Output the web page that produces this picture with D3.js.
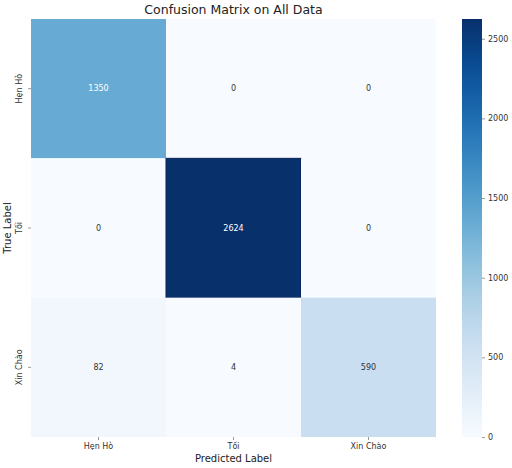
<!DOCTYPE html>
<html>
<head>
<meta charset="utf-8">
<script src="https://cdn.jsdelivr.net/npm/d3@7"></script>
<style>
  body { margin: 0; background: #fff; }
  text { font-family: "DejaVu Sans", sans-serif; }
</style>
</head>
<body>
<div id="chart"></div>
<script>
// class labels (true = rows, predicted = columns)
const labels = ["Hẹn Hò", "Tối", "Xin Chào"];
// confusion counts, row by row
const row0 = [1350, 0, 0];
const row1 = [0, 2624, 0];
const row2 = [82, 4, 590];
const colorTicks = [0, 500, 1000, 1500, 2000, 2500];

const matrix = [row0, row1, row2];
const cells = [];
matrix.forEach((r, i) => r.forEach((v, j) => cells.push({row: labels[i], col: labels[j], value: v})));

const W = 512, H = 468;
const margin = {top: 19, left: 31, right: 76, bottom: 31};
const plotW = 436 - margin.left, plotH = 437 - margin.top;

const svg = d3.select("#chart").append("svg")
    .attr("width", W)
    .attr("height", H);

const g = svg.append("g")
    .attr("transform", "translate(" + margin.left + "," + margin.top + ")");

const maxV = d3.max(cells, d => d.value);
const color = d3.scaleSequential(d3.interpolateBlues).domain([0, maxV]);

const x = d3.scaleBand().domain(labels).range([0, plotW]);
const y = d3.scaleBand().domain(labels).range([0, plotH]);

// cells
g.selectAll("rect.cell")
    .data(cells)
    .enter()
    .append("rect")
    .attr("class", "cell")
    .attr("x", d => x(d.col))
    .attr("y", d => y(d.row))
    .attr("width", x.bandwidth())
    .attr("height", y.bandwidth())
    .attr("fill", d => color(d.value))
    .attr("stroke", d => d.value === maxV ? "#08205a" : "none")
    .attr("stroke-width", 1);

// annotations - white on dark cells
g.selectAll("text.annot")
    .data(cells)
    .enter()
    .append("text")
    .attr("class", "annot")
    .attr("x", d => x(d.col) + x.bandwidth() / 2)
    .attr("y", d => y(d.row) + y.bandwidth() / 2)
    .attr("text-anchor", "middle")
    .attr("dominant-baseline", "central")
    .style("font-size", "8px")
    .attr("fill", d => d.value / maxV > 0.4 ? "#ffffff" : "#333")
    .text(d => d.value);

// axes
const xAxis = g.append("g")
    .attr("transform", "translate(0," + plotH + ")")
    .call(d3.axisBottom(x).tickSize(3).tickPadding(3));
xAxis.select(".domain").remove();
xAxis.selectAll("line").attr("stroke", "#555").attr("stroke-width", 0.6);
xAxis.selectAll("text").style("font-size", "8px").attr("fill", "#333");

const yAxis = g.append("g")
    .call(d3.axisLeft(y).tickSize(3).tickPadding(3));
yAxis.select(".domain").remove();
yAxis.selectAll("line").attr("stroke", "#555").attr("stroke-width", 0.6);
yAxis.selectAll("text")
    .style("font-size", "8px")
    .attr("fill", "#333")
    .attr("text-anchor", "middle")
    .attr("dy", null)
    .attr("x", null)
    .attr("transform", "translate(-9,0) rotate(-90)");

// title and axis labels
svg.append("text")
    .attr("x", margin.left + plotW / 2)
    .attr("y", 14)
    .attr("text-anchor", "middle")
    .style("font-size", "12.5px")
    .attr("fill", "#222")
    .text("Confusion Matrix on All Data");

svg.append("text")
    .attr("x", margin.left + plotW / 2)
    .attr("y", 462)
    .attr("text-anchor", "middle")
    .style("font-size", "10px")
    .attr("fill", "#222")
    .text("Predicted Label");

svg.append("text")
    .attr("transform", "translate(11," + (margin.top + plotH / 2) + ") rotate(-90)")
    .attr("text-anchor", "middle")
    .style("font-size", "10px")
    .attr("fill", "#222")
    .text("True Label");

// colorbar
const cbX = 462, cbW = 20;
const cbScale = d3.scaleLinear().domain([0, maxV]).range([437, margin.top]);

const defs = svg.append("defs");
const grad = defs.append("linearGradient")
    .attr("id", "cbGrad")
    .attr("x1", 0).attr("y1", 1).attr("x2", 0).attr("y2", 0);
d3.range(0, 1.0001, 0.05).forEach(t => {
    grad.append("stop")
        .attr("offset", t)
        .attr("stop-color", color(t * maxV));
});

svg.append("rect")
    .attr("x", cbX)
    .attr("y", margin.top)
    .attr("width", cbW)
    .attr("height", 437 - margin.top)
    .attr("fill", "url(#cbGrad)");

const cbAxis = svg.append("g")
    .attr("transform", "translate(" + (cbX + cbW) + ",0)")
    .call(d3.axisRight(cbScale).tickValues(colorTicks).tickFormat(d3.format("d")).tickSize(3).tickPadding(3));
cbAxis.select(".domain").remove();
cbAxis.selectAll("line").attr("stroke", "#555").attr("stroke-width", 0.6);
cbAxis.selectAll("text").style("font-size", "8px").attr("fill", "#333");
</script>
</body>
</html>
